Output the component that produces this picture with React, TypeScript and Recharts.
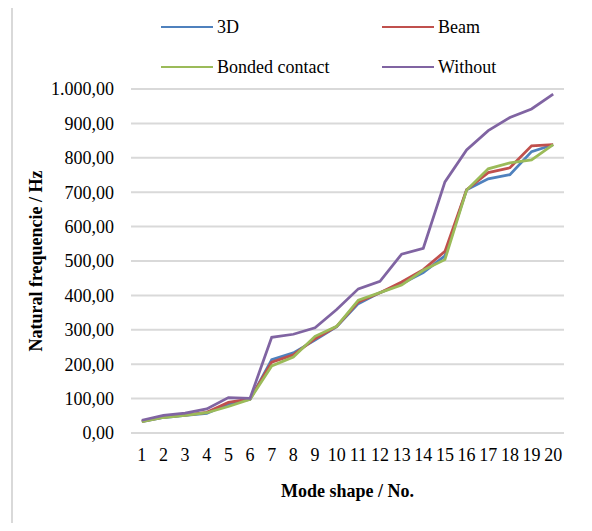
import { CartesianGrid, Label, Legend, Line, LineChart, XAxis, YAxis } from "recharts";

const modes = [1, 2, 3, 4, 5, 6, 7, 8, 9, 10, 11, 12, 13, 14, 15, 16, 17, 18, 19, 20];
const threeD = [33, 45, 51, 57, 84, 98, 213, 233, 270, 309, 376, 408, 434, 466, 515, 707, 739, 751, 818, 838];
const beam = [34, 46, 52, 60, 89, 99, 206, 227, 274, 310, 381, 408, 439, 475, 528, 707, 757, 771, 835, 838];
const bonded = [33, 45, 51, 59, 77, 98, 195, 221, 281, 310, 386, 408, 430, 473, 504, 706, 768, 785, 794, 838];
const without = [37, 51, 58, 70, 103, 101, 278, 287, 306, 359, 419, 441, 520, 537, 730, 823, 879, 917, 942, 985];
const yTicks = [0, 100, 200, 300, 400, 500, 600, 700, 800, 900, 1000];

const series = [
	{ key: "threeD", name: "3D", color: "#4F81BD" },
	{ key: "beam", name: "Beam", color: "#C0504D" },
	{ key: "bonded", name: "Bonded contact", color: "#9BBB59" },
	{ key: "without", name: "Without", color: "#8064A2" },
];

const data = modes.map((m, i) => ({
	mode: m,
	threeD: threeD[i],
	beam: beam[i],
	bonded: bonded[i],
	without: without[i],
}));

const FONT = '"Liberation Serif", "Times New Roman", serif';

// 1000 -> "1.000,00"
const fmt = (v: number) => {
	const s = String(Math.round(v)).replace(/\B(?=(\d{3})+(?!\d))/g, ".");
	return s + ",00";
};

const LegendBox = (props: any) => {
	const items = props.payload || [];
	const cols = [161, 382];
	const rows = [27, 67];
	return (
		<div style={{ position: "relative", width: 592, height: 89 }}>
			{items.map((it: any, i: number) => (
				<div
					key={it.value}
					style={{
						position: "absolute",
						left: cols[i % 2],
						top: rows[Math.floor(i / 2)] - 12,
						height: 24,
						display: "flex",
						alignItems: "center",
						fontFamily: FONT,
						fontSize: 18,
						color: "#000",
						whiteSpace: "nowrap",
					}}
				>
					<span style={{ display: "inline-block", width: 52, height: 2.75, background: it.color, marginRight: 4 }} />
					{it.value}
				</div>
			))}
		</div>
	);
};

export default function App() {
	return (
		<div style={{ margin: -8, position: "relative", width: 592, height: 531, overflow: "hidden", background: "#fff" }}>
			<div
				style={{
					position: "absolute",
					left: 11,
					top: 5,
					width: 640,
					height: 640,
					border: "2px solid #d9d9d9",
				}}
			/>
			<LineChart width={592} height={531} data={data} margin={{ top: 0, right: 28, bottom: 0, left: 0 }}>
				<Legend
					verticalAlign="top"
					align="left"
					content={LegendBox}
					wrapperStyle={{ top: 0, left: 0, width: 592, height: 89 }}
				/>
				<CartesianGrid vertical={false} stroke="#d9d9d9" strokeWidth={2} />
				<XAxis
					dataKey="mode"
					height={98}
					padding={{ left: 10.8, right: 10.8 }}
					tickLine={false}
					tickSize={0}
					tickMargin={15}
					axisLine={{ stroke: "#d9d9d9", strokeWidth: 2 }}
					tick={{ fill: "#000", fontSize: 18, fontFamily: FONT }}
					interval={0}
				>
					<Label
						content={(p: any) => {
							const vb = p.viewBox;
							return (
								<text
									x={vb.x + vb.width / 2}
									y={vb.y + 64}
									textAnchor="middle"
									fontFamily={FONT}
									fontSize={18}
									fontWeight="bold"
									fill="#000"
								>
									Mode shape / No.
								</text>
							);
						}}
					/>
				</XAxis>
				<YAxis
					width={131}
					domain={[0, 1000]}
					ticks={yTicks}
					tickFormatter={fmt}
					tickLine={false}
					axisLine={false}
					tickSize={0}
					tickMargin={17}
					tick={{ fill: "#000", fontSize: 18, fontFamily: FONT }}
					interval={0}
				>
					<Label
						content={(p: any) => {
							const vb = p.viewBox;
							const cx = vb.x + 42;
							const cy = vb.y + vb.height / 2;
							return (
								<text
									x={cx}
									y={cy}
									transform={`rotate(-90 ${cx} ${cy})`}
									textAnchor="middle"
									fontFamily={FONT}
									fontSize={18}
									fontWeight="bold"
									fill="#000"
								>
									Natural frequencie / Hz
								</text>
							);
						}}
					/>
				</YAxis>
				{series.map((s) => (
					<Line
						key={s.key}
						dataKey={s.key}
						name={s.name}
						stroke={s.color}
						strokeWidth={2.75}
						dot={false}
						type="linear"
						isAnimationActive={false}
						legendType="line"
					/>
				))}
			</LineChart>
		</div>
	);
}
